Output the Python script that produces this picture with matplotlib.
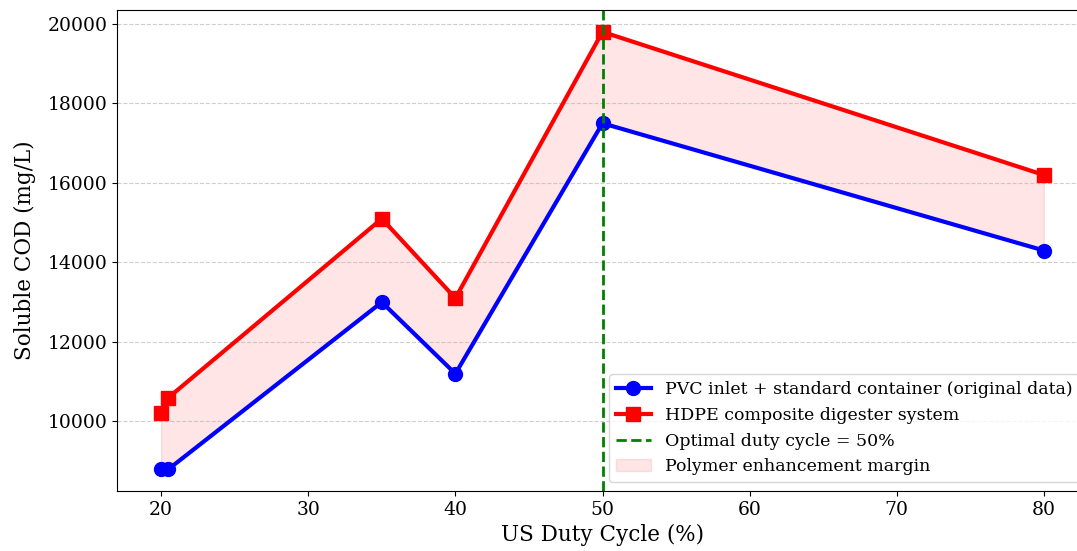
import numpy as np
import matplotlib.pyplot as plt

duty = [20, 20.5, 35, 40, 50, 80]
pvc = [8800, 8800, 13000, 11200, 17500, 14300]
hdpe = [10200, 10600, 15100, 13100, 19800, 16200]
optimal = 50

plt.rcParams['font.family'] = ['DejaVu Serif']

fig = plt.figure(figsize=(10.77, 5.51), dpi=100)
ax = fig.add_axes([117 / 1077, 60 / 551, (1088 - 117) / 1077, 481 / 551])

ax.plot(duty, pvc, color='blue', marker='o', linewidth=3, markersize=10,
        label='PVC inlet + standard container (original data)')
ax.plot(duty, hdpe, color='red', marker='s', linewidth=3, markersize=10,
        label='HDPE composite digester system')
ax.axvline(optimal, color='green', linestyle='--', linewidth=2,
           label='Optimal duty cycle = 50%')
ax.fill_between(duty, pvc, hdpe, color='red', alpha=0.1,
                label='Polymer enhancement margin')

ax.set_xlabel('US Duty Cycle (%)', fontsize=15.5)
ax.set_ylabel('Soluble COD (mg/L)', fontsize=15.5, labelpad=8)
ax.tick_params(labelsize=13.5)
ax.grid(axis='y', linestyle='--', alpha=0.6)
ax.legend(loc='lower right', fontsize=12.5)

fig.savefig('out.png', dpi=100)
